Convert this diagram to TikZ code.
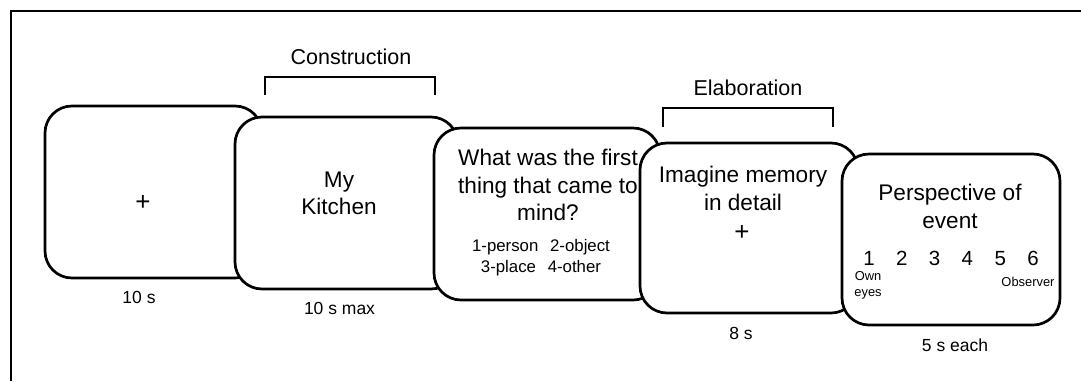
\documentclass[tikz,border=0pt]{standalone}
\usepackage{fontspec}
\setmainfont{Liberation Sans}
\begin{document}
\begin{tikzpicture}[x=1pt,y=-1pt,
  screen/.style={draw=black, fill=white, line width=2.7pt, rounded corners=27pt,
    inner sep=0pt, outer sep=0pt},
  bigtxt/.style={inner sep=0pt, align=center, font=\fontsize{22.6}{27.5}\selectfont},
  plustxt/.style={inner sep=0pt, font=\fontsize{26}{30}\selectfont},
  midtxt/.style={inner sep=0pt, align=center, font=\fontsize{16.8}{21}\selectfont},
  numtxt/.style={inner sep=0pt, anchor=base, font=\fontsize{20.5}{24}\selectfont},
  smalltxt/.style={inner sep=0pt, align=center, font=\fontsize{12.9}{16}\selectfont},
  timetxt/.style={inner sep=0pt, font=\fontsize{17.5}{21}\selectfont},
  headtxt/.style={inner sep=0pt, font=\fontsize{21.5}{26}\selectfont},
  bracket/.style={draw=black, line width=2.4pt},
  frameline/.style={draw=black, line width=1.2pt}
]
\useasboundingbox (0,0) rectangle (1081,381);
\fill[white] (0,0) rectangle (1081,381);
% frame
\coordinate (fa) at (11,381);
\coordinate (fb) at (11,11);
\coordinate (fc) at (1081,11);
\draw[frameline] (fa) -- (fb) -- (fc);

% screens
\node[screen, minimum width=217pt, minimum height=172pt] (b1) at (153.5,192) {};
\node[screen, minimum width=223pt, minimum height=172pt] (b2) at (346.5,203) {};
\node[screen, minimum width=226pt, minimum height=172pt] (b3) at (547,214) {};
\node[screen, minimum width=218pt, minimum height=170pt] (b4) at (749,228) {};
\node[screen, minimum width=218pt, minimum height=171pt] (b5) at (951,239.5) {};

% contents
\node[plustxt] (t1) at (143,203) {+};
\node[bigtxt] (t2) at (339,193.5) {My\\Kitchen};
\node[bigtxt] (t3) at (548,185) {What was the first\\thing that came to\\mind?};
\node[midtxt] (t3b) at (541,257.5) {1-person\hspace{0.7em}2-object\\3-place\hspace{0.7em}4-other};
\node[bigtxt] (t4) at (743,188.5) {Imagine memory\\in detail};
\node[plustxt] (t4b) at (742,233) {+};
\node[bigtxt] (t5) at (950,206.5) {Perspective of\\event};
\foreach \i/\xx in {1/869,2/901.8,3/934.6,4/967.4,5/1000.2,6/1033}{
  \node[numtxt] (n\i) at (\xx,265.3) {\i};
}
\node[smalltxt] (own) at (868,285) {Own\\eyes};
\node[smalltxt] (obs) at (1028,282) {Observer};

% durations
\node[timetxt] (d1) at (139,297) {10 s};
\node[timetxt] (d2) at (339.5,308) {10 s max};
\node[timetxt] (d4) at (741,333) {8 s};
\node[timetxt] (d5) at (955,345) {5 s each};

% brackets
\node[headtxt] (hc) at (351,57) {Construction};
\node[headtxt] (he) at (748,88) {Elaboration};
\coordinate (ca) at (265,95);
\coordinate (cb) at (265,77);
\coordinate (cc) at (435,77);
\coordinate (cd) at (435,95);
\draw[bracket] (ca) -- (cb) -- (cc) -- (cd);
\coordinate (ea) at (663,127);
\coordinate (eb) at (663,108);
\coordinate (ec) at (833,108);
\coordinate (ed) at (833,127);
\draw[bracket] (ea) -- (eb) -- (ec) -- (ed);
\end{tikzpicture}
\end{document}
